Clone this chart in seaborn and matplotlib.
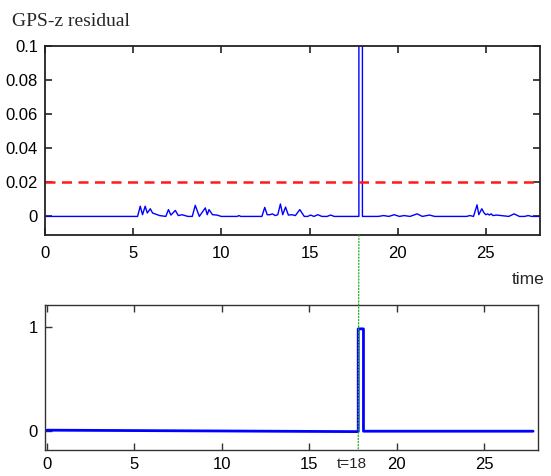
import matplotlib
matplotlib.use("Agg")
import matplotlib.pyplot as plt
from matplotlib.patches import ConnectionPatch
import seaborn as sns

# GPS-z residual (top panel)
res_t = [0, 5.25, 5.4, 5.53, 5.68, 5.8, 5.97, 6.1, 6.5, 6.85, 7.0, 7.14, 7.39, 7.56,
         7.77, 8.1, 8.35, 8.52, 8.75, 9.09, 9.2, 9.3, 9.5, 9.75, 10.0, 10.9, 11.0,
         11.1, 12.3, 12.46, 12.6, 12.75, 12.9, 13.05, 13.2, 13.35, 13.48, 13.64,
         13.8, 14.0, 14.2, 14.45, 14.7, 14.9, 15.06, 15.25, 15.47, 15.7, 16.0, 16.2,
         16.4, 17.8, 17.8, 18.0, 18.0, 18.9, 19.2, 19.5, 19.8, 20.1, 20.36, 20.7,
         21.1, 21.4, 21.8, 22.1, 23.9, 24.1, 24.3, 24.5, 24.6, 24.77, 24.9, 25.0,
         25.1, 25.2, 25.3, 25.4, 25.6, 26.3, 26.6, 26.9, 27.2, 27.4, 27.6, 28.2]
res_v = [0, 0, 0.006, 0.001, 0.006, 0.002, 0.0045, 0.002, 0.0005, 0, 0.004, 0.0008,
         0.0035, 0.0005, 0.001, 0, 0, 0.0065, 0, 0.005, 0.001, 0.004, 0.001, 0.0008,
         0, 0, 0.0005, 0, 0, 0.0053, 0.001, 0.001, 0.0015, 0.0005, 0.001, 0.0073,
         0.001, 0.0055, 0.0008, 0.001, 0.0005, 0.004, 0, 0, 0.0008, 0, 0.001, 0, 0,
         0.0008, 0, 0, 0.4, 0.4, 0, 0, 0.0005, 0, 0.001, 0, 0.0005, 0, 0.0015, 0,
         0.0008, 0, 0, 0.0005, 0, 0.0068, 0.001, 0.0045, 0.002, 0.001, 0.0015,
         0.0008, 0.0015, 0.0005, 0.0008, 0, 0.0015, 0, 0, 0.0005, 0, 0]
threshold = 0.02

# fault flag (bottom panel)
flag_t = [0, 17.8, 17.8, 18.1, 18.1, 27.8]
flag_v = [0.01, -0.004, 0.98, 0.98, 0.0, 0.0]

event_t = 17.8
event_label = "t=18"
x_ticks = [0, 5, 10, 15, 20, 25]
top_yticks = [0, 0.02, 0.04, 0.06, 0.08, 0.1]
top_ylabels = ["0", "0.02", "0.04", "0.06", "0.08", "0.1"]

sns.set_style("ticks")
plt.rcParams["font.family"] = ["Liberation Sans", "DejaVu Sans"]

fig = plt.figure(figsize=(5.51, 4.76), dpi=100)
ax1 = fig.add_axes([0.0817, 0.506, 0.898, 0.397])
ax2 = fig.add_axes([0.0817, 0.0546, 0.895, 0.305])

sns.lineplot(x=res_t, y=res_v, ax=ax1, color="#0000ff", lw=1.0,
             estimator=None, sort=False)
ax1.axhline(threshold, color="#ff1a1a", lw=1.8, ls=(0, (4, 2.6)))
ax1.set_xlim(0, 28.06)
ax1.set_ylim(-0.011, 0.1)
ax1.set_xticks(x_ticks)
ax1.set_yticks(top_yticks)
ax1.set_yticklabels(top_ylabels)
ax1.tick_params(direction="in", length=5, width=1.2, top=True, right=True,
                labelsize=12, colors="#222222", labelcolor="black")
ax1.tick_params(axis="x", pad=8)
ax1.tick_params(axis="y", pad=5)
for s in ax1.spines.values():
    s.set_linewidth(1.3)
    s.set_color("#222222")
ax1.set_xlabel("")
ax1.set_ylabel("")
fig.text(0.022, 0.955, "GPS-z residual", family="Liberation Serif", fontsize=14,
         va="center", ha="left")
fig.text(0.929, 0.413, "time", fontsize=12.5, va="center", ha="left")

sns.lineplot(x=flag_t, y=flag_v, ax=ax2, color="#0000ff", lw=2.0,
             estimator=None, sort=False)
ax2.set_xlim(-0.11, 28.09)
ax2.set_ylim(-0.18, 1.21)
ax2.set_xticks(x_ticks)
ax2.set_yticks([0, 1])
ax2.tick_params(direction="in", length=5, width=1.0, top=True, right=False,
                labelsize=12, colors="#333333", labelcolor="black", pad=5)
for s in ax2.spines.values():
    s.set_linewidth(1.0)
    s.set_color("#333333")
ax2.set_xlabel("")
ax2.set_ylabel("")
ax2.text(event_t - 0.35, -0.045, event_label, transform=ax2.get_xaxis_transform(),
         ha="center", va="top", fontsize=11)

con = ConnectionPatch(xyA=(event_t, -0.011), coordsA=ax1.transData,
                      xyB=(event_t, -0.18), coordsB=ax2.transData,
                      color="#22aa22", lw=0.9, ls=(0, (1, 1.5)))
fig.add_artist(con)

fig.savefig("out.png", dpi=100)
